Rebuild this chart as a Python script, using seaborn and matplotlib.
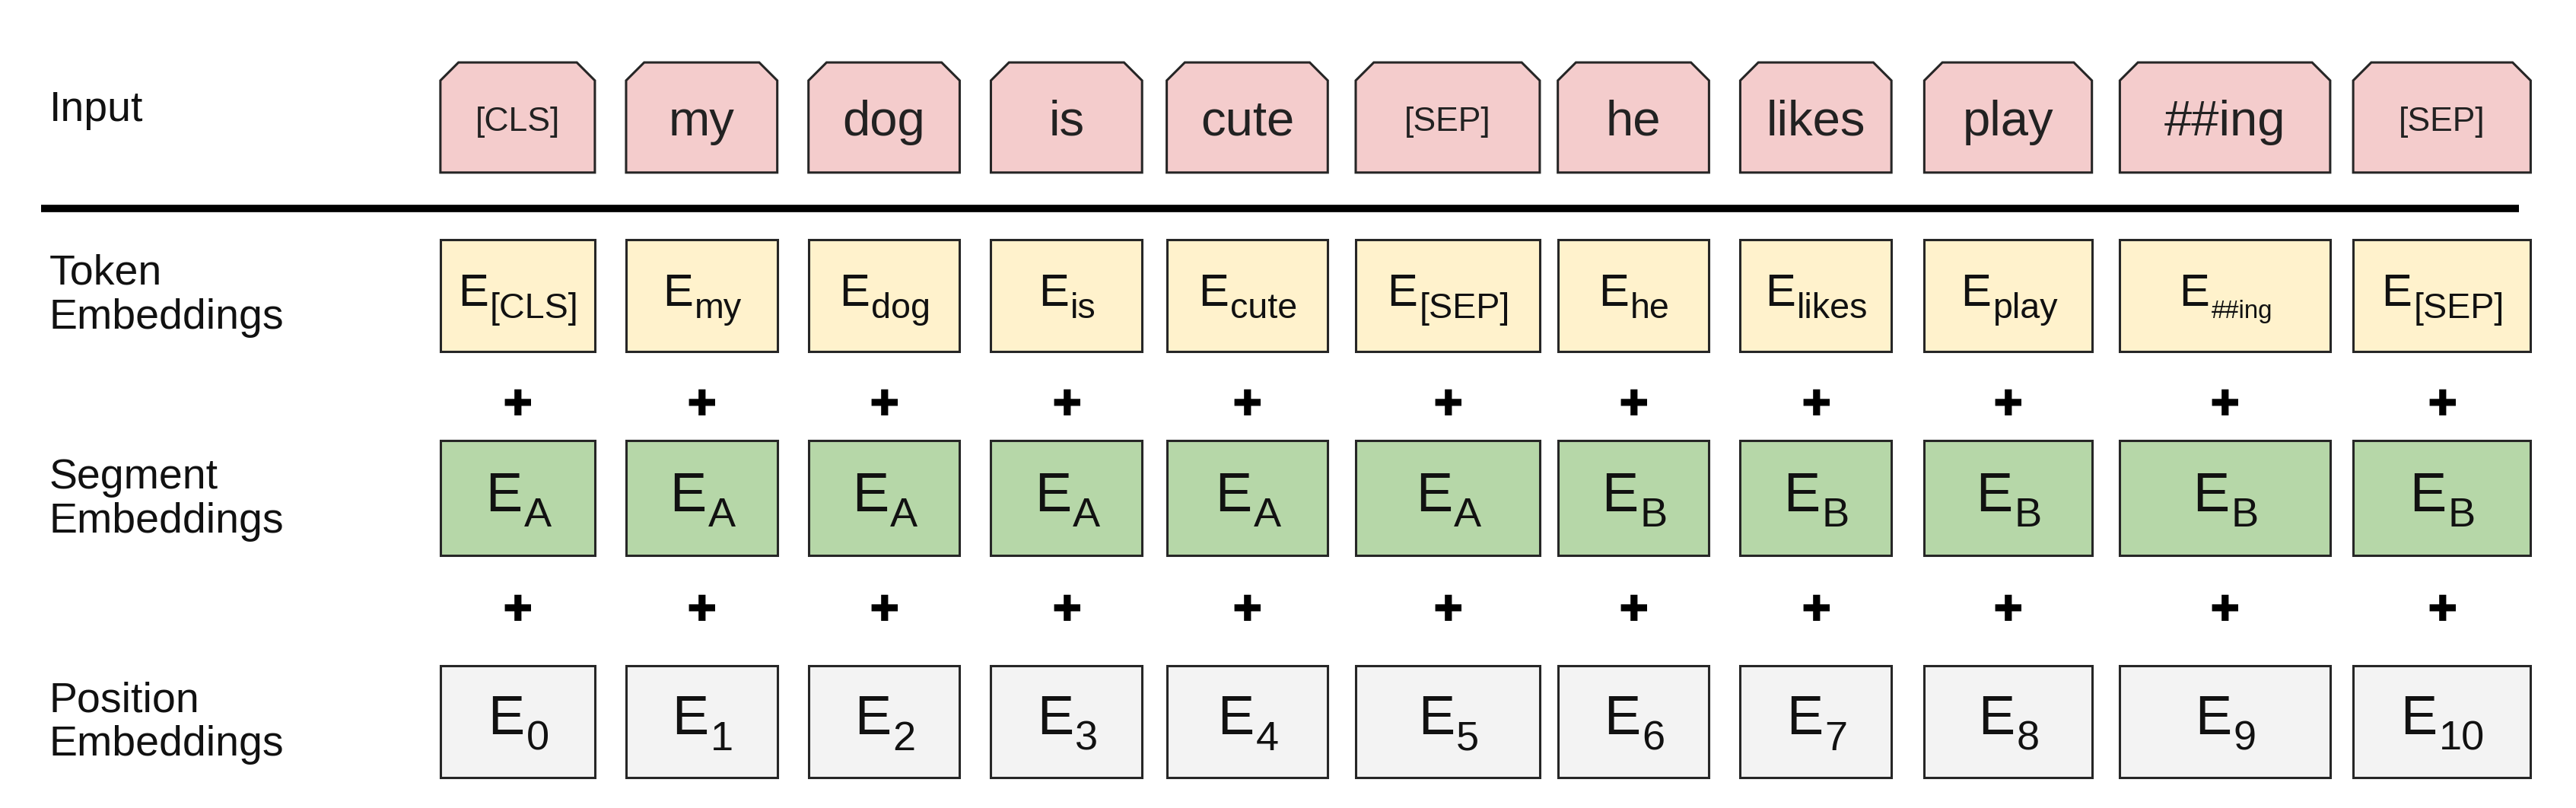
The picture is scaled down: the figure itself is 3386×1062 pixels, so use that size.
import matplotlib
matplotlib.use("Agg")
import matplotlib.pyplot as plt
from matplotlib.patches import Polygon
import seaborn as sns

# ---- data ----
tokens = ["[CLS]", "my", "dog", "is", "cute", "[SEP]", "he", "likes", "play", "##ing", "[SEP]"]
token_subs = ["[CLS]", "my", "dog", "is", "cute", "[SEP]", "he", "likes", "play", "##ing", "[SEP]"]
segments = ["A", "A", "A", "A", "A", "A", "B", "B", "B", "B", "B"]
positions = ["0", "1", "2", "3", "4", "5", "6", "7", "8", "9", "10"]
row_labels = ["Input", "Token\nEmbeddings", "Segment\nEmbeddings", "Position\nEmbeddings"]

# ---- layout (display units) ----
box_left = [268, 381, 492, 603, 710, 825, 948, 1059, 1171, 1290, 1432]
box_right = [362, 473, 584, 695, 808, 937, 1040, 1151, 1273, 1418, 1540]
rows = {"input": (38, 105), "token": (146, 214), "segment": (268, 338), "position": (405, 473)}
colors = {"input": "#f4cccc", "token": "#fff2cc", "segment": "#b6d7a8", "position": "#f3f3f3"}
edge = "#262626"

sns.set_theme(style="white")
plt.rcParams["font.family"] = ["Liberation Sans", "DejaVu Sans"]

W, H = 3386, 1062
s = 2.16
fig = plt.figure(figsize=(W / 100, H / 100), dpi=100)
ax = fig.add_axes([0, 0, 1, 1])
ax.set_xlim(0, W / s)
ax.set_ylim(H / s, 0)
ax.axis("off")
renderer = fig.canvas.get_renderer()

centers = [(l + r) / 2 for l, r in zip(box_left, box_right)]
widths = [r - l for l, r in zip(box_left, box_right)]

# input boxes (chamfered top corners)
y0, y1 = rows["input"]
c = 11
for l, r, t, cx in zip(box_left, box_right, tokens, centers):
    poly = Polygon([(l, y1), (l, y0 + c), (l + c, y0), (r - c, y0), (r, y0 + c), (r, y1)],
                   closed=True, facecolor=colors["input"], edgecolor=edge, lw=2.2)
    ax.add_patch(poly)
    fs = 32 if t.startswith("[") else 47
    ax.text(cx, (y0 + y1) / 2 + 3, t, ha="center", va="center", fontsize=fs, color="#222222")

# divider
ax.plot([25, 1533], [127, 127], color="black", lw=7, solid_capstyle="butt")

def width_of(t):
    return t.get_window_extent(renderer).width / s

def e_label(cx, cy, sub, fs, ratio):
    cap_h = 0.716 * fs * 100 / 72 / s  # data units
    base = cy + cap_h / 2
    te = ax.text(0, base, "E", ha="left", va="baseline", fontsize=fs, color="#111111")
    sfs = fs * (0.55 if sub.startswith("##") else ratio)
    ts = ax.text(0, base + 0.28 * fs * 100 / 72 / s, sub, ha="left", va="baseline",
                 fontsize=sfs, color="#111111")
    we, ws = width_of(te), width_of(ts)
    x0 = cx - (we + ws) / 2
    te.set_x(x0)
    ts.set_x(x0 + we + 1)

# embedding rows drawn as bars
def row(name, labels, fs, ratio):
    a, b = rows[name]
    ax.bar(centers, b - a, width=widths, bottom=a, color=colors[name], edgecolor=edge, linewidth=2.2)
    for cx, lab in zip(centers, labels):
        e_label(cx, (a + b) / 2 - 4, lab, fs, ratio)

row("token", token_subs, 43, 0.78)
row("segment", segments, 52, 0.75)
row("position", positions, 52, 0.75)

# plus signs
for yy in (247, 372):
    for cx in centers:
        ax.text(cx, yy, "\u271a", ha="center", va="center", fontsize=34, color="black",
                family="DejaVu Sans")

# left labels
label_y = [67, 180, 304, 440]
for lab, yy in zip(row_labels, label_y):
    ax.text(30, yy, lab, ha="left", va="center", fontsize=40, color="#111111", linespacing=1.15)

fig.savefig("out.png", dpi=100)
